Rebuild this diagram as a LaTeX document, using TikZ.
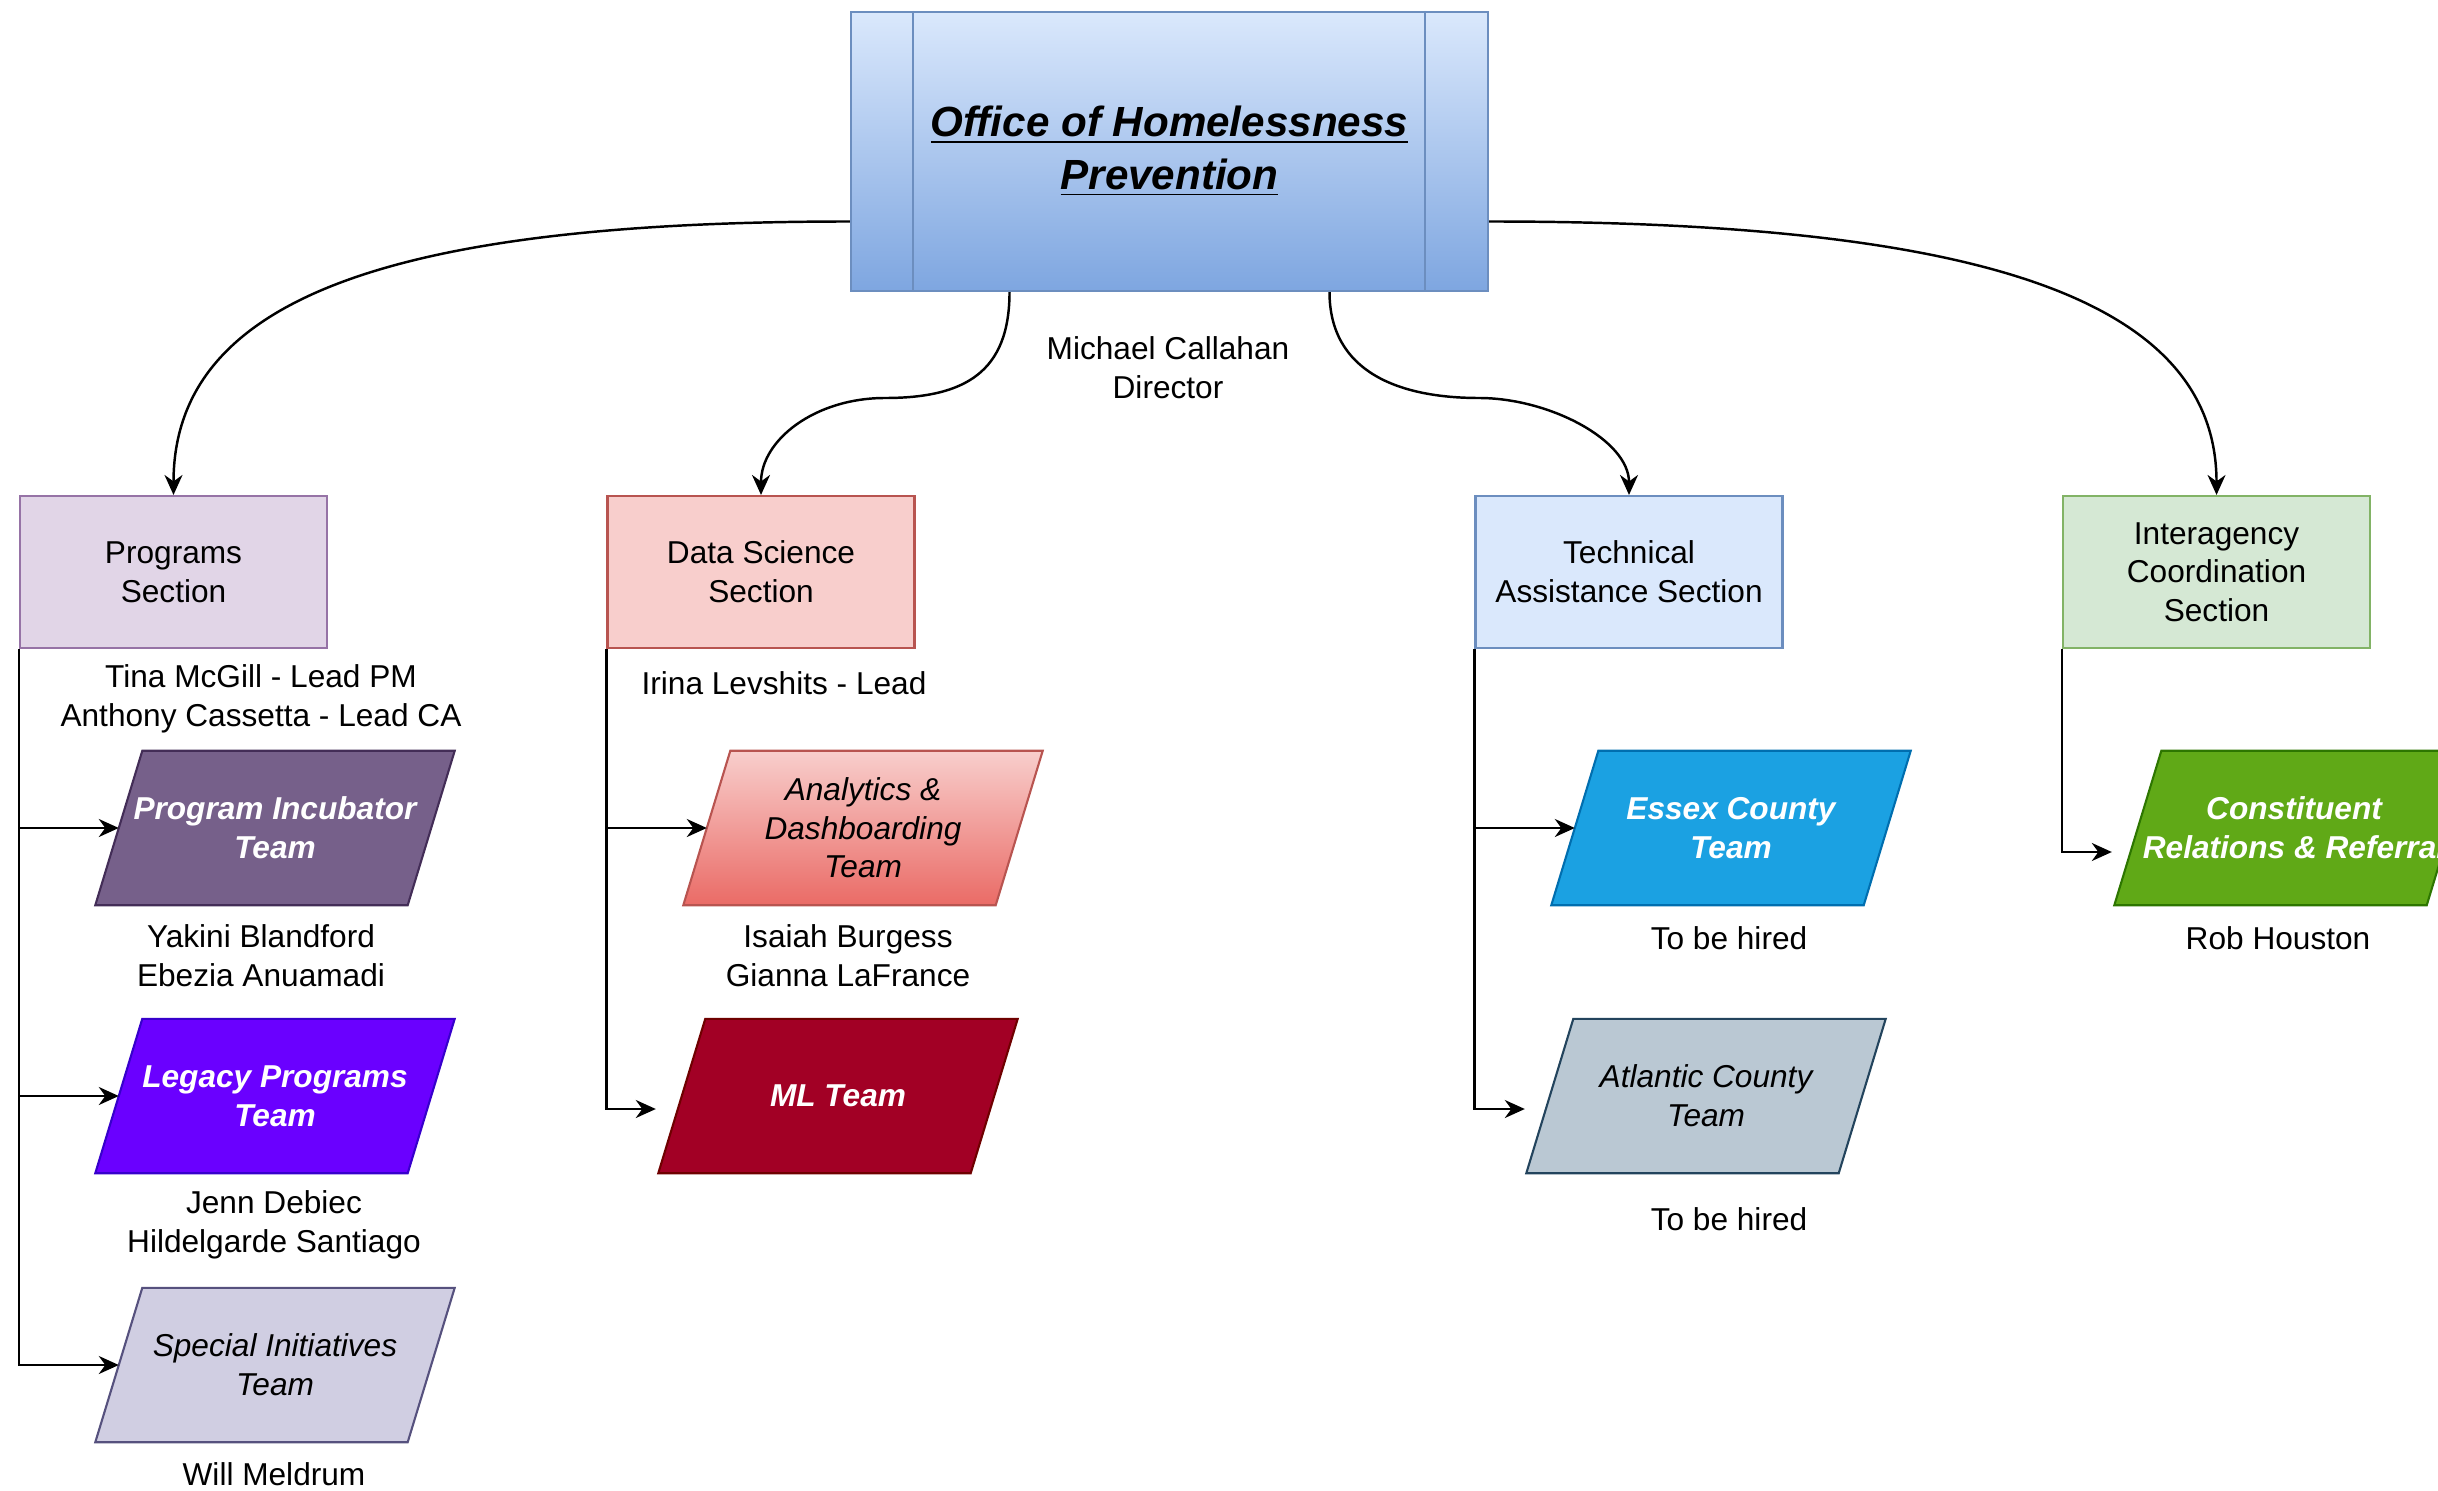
\documentclass[tikz,border=0pt]{standalone}
\usepackage{fontspec}
\setmainfont{Liberation Sans}
\usepackage{tikz}
\usetikzlibrary{arrows.meta, calc, positioning}

\definecolor{officetop}{HTML}{DAE8FC}
\definecolor{officebottom}{HTML}{7EA6E0}
\definecolor{officeline}{HTML}{6C8EBF}
\definecolor{progfill}{HTML}{E1D5E7}
\definecolor{progline}{HTML}{9673A6}
\definecolor{dsfill}{HTML}{F8CECC}
\definecolor{dsline}{HTML}{B85450}
\definecolor{dsbottom}{HTML}{EA6B66}
\definecolor{techfill}{HTML}{DAE8FC}
\definecolor{techline}{HTML}{6C8EBF}
\definecolor{interfill}{HTML}{D5E8D4}
\definecolor{interline}{HTML}{82B366}
\definecolor{incubfill}{HTML}{76608A}
\definecolor{incubline}{HTML}{432D57}
\definecolor{legacyfill}{HTML}{6A00FF}
\definecolor{legacyline}{HTML}{3700CC}
\definecolor{specialfill}{HTML}{D0CEE2}
\definecolor{specialline}{HTML}{56517E}
\definecolor{mlfill}{HTML}{A20025}
\definecolor{mlline}{HTML}{6F0000}
\definecolor{essexfill}{HTML}{1BA1E2}
\definecolor{essexline}{HTML}{006EAF}
\definecolor{atlanticfill}{HTML}{BAC8D3}
\definecolor{atlanticline}{HTML}{23445D}
\definecolor{constfill}{HTML}{60A917}
\definecolor{constline}{HTML}{2D7600}

\pgfdeclarelayer{background}
\pgfsetlayers{background,main}

\tikzset{
    office/.style={draw=officeline, line width=0.6pt, top color=officetop, bottom color=officebottom, minimum width=63.7mm, minimum height=27.9mm, font=\fontsize{12}{15}\selectfont\bfseries\itshape},
    section/.style={draw, line width=0.6pt, minimum width=30.7mm, minimum height=15.2mm, inner sep=1mm},
    team/.style={minimum width=31.1mm, minimum height=15.3mm, inner sep=0pt, font=\fontsize{9}{11}\selectfont\itshape},
    whiteteam/.style={team, text=white, font=\fontsize{9}{11}\selectfont\bfseries\itshape},
    teamshape/.style={line width=0.6pt},
    arr/.style={-{Stealth[length=2mm, width=1.8mm]}, line width=0.7pt},
}

\begin{document}
\fontsize{9}{11}\selectfont
\begin{tikzpicture}[x=0.1mm, y=0.1mm, every node/.append style={align=center}]
    \useasboundingbox (0,0) rectangle (2438,1490);
    \pgfmathsetmacro{\rowone}{662}
    \pgfmathsetmacro{\rowtwo}{394}
    \pgfmathsetmacro{\rowthree}{125}
    \pgfmathsetmacro{\slant}{2.35}

    % director
    \node[office] (office) at (1169.5,1338.5) {\underline{Office of Homelessness}\\\underline{Prevention}};
    \draw[officeline, line width=0.6pt] ([xshift=6.3mm]office.north west) -- ([xshift=6.3mm]office.south west);
    \draw[officeline, line width=0.6pt] ([xshift=-6.4mm]office.north east) -- ([xshift=-6.4mm]office.south east);
    \node (director) at (1168,1122) {Michael Callahan\\Director};

    % sections
    \node[section, fill=progfill, draw=progline] (programs) at (173.5,918) {Programs\\Section};
    \node[section, fill=dsfill, draw=dsline] (datasci) at (761,918) {Data Science\\Section};
    \node[section, fill=techfill, draw=techline] (techassist) at (1629,918) {Technical\\Assistance Section};
    \node[section, fill=interfill, draw=interline] (interagency) at (2216.5,918) {Interagency\\Coordination\\Section};

    \draw[arr] ([yshift=-7mm]office.west) .. controls +(-450,0) and +(0,200) .. (programs.north);
    \draw[arr] ([yshift=-7mm]office.east) .. controls +(480,0) and +(0,200) .. (interagency.north);
    \draw[arr] ([xshift=-16mm]office.south) .. controls +(0,-80) and +(80,0) .. (885,1092) .. controls +(-70,0) and +(0,55) .. (datasci.north);
    \draw[arr] ([xshift=16mm]office.south) .. controls +(0,-80) and +(-80,0) .. (1479,1092) .. controls +(70,0) and +(0,55) .. (techassist.north);

    % programs teams
    \node[whiteteam] (incubator) at (275,\rowone) {Program Incubator\\Team};
    \node[whiteteam] (legacy) at (275,\rowtwo) {Legacy Programs\\Team};
    \node[team] (special) at (275,\rowthree) {Special Initiatives\\Team};
    \draw[arr] (programs.south west) |- (incubator);
    \draw[arr] (programs.south west) |- (legacy);
    \draw[arr] (programs.south west) |- (special);
    \node (proglead) at (261,791) {Tina McGill - Lead PM\\Anthony Cassetta - Lead CA};
    \node (incubnames) at (261,534) {Yakini Blandford\\Ebezia Anuamadi};
    \node (legacynames) at (274,265) {Jenn Debiec\\Hildelgarde Santiago};
    \node (specialnames) at (274,16) {Will Meldrum};

    % data science teams
    \node[team] (analytics) at (863,\rowone) {Analytics \&\\Dashboarding\\Team};
    \node[whiteteam] (mlteam) at (838,\rowtwo) {ML Team};
    \draw[arr] (datasci.south west) |- (analytics);
    \draw[arr] (datasci.south west) |- ([xshift=-2.6mm, yshift=-1.3mm]mlteam.west);
    \node (dslead) at (784,807) {Irina Levshits - Lead};
    \node (analyticsnames) at (848,534) {Isaiah Burgess\\Gianna LaFrance};

    % technical assistance teams
    \node[whiteteam] (essex) at (1731,\rowone) {Essex County\\Team};
    \node[team] (atlantic) at (1706,\rowtwo) {Atlantic County\\Team};
    \draw[arr] (techassist.south west) |- (essex);
    \draw[arr] (techassist.south west) |- ([xshift=-2.5mm, yshift=-1.3mm]atlantic.west);
    \node (essexnames) at (1729,552) {To be hired};
    \node (atlanticnames) at (1729,271) {To be hired};

    % interagency team
    \node[whiteteam] (constituent) at (2294,\rowone) {Constituent\\Relations \& Referral};
    \draw[arr] (interagency.south west) |- ([xshift=-2.6mm, yshift=-2.4mm]constituent.west);
    \node (constnames) at (2278,552) {Rob Houston};

    % parallelograms behind the team names
    \begin{pgfonlayer}{background}
        \foreach \n/\f/\l in {incubator/incubfill/incubline, legacy/legacyfill/legacyline, special/specialfill/specialline, mlteam/mlfill/mlline, essex/essexfill/essexline, atlantic/atlanticfill/atlanticline, constituent/constfill/constline}
            \filldraw[teamshape, fill=\f, draw=\l] ([xshift=-\slant mm]\n.south west) -- ([xshift=-\slant mm]\n.south east) -- ([xshift=\slant mm]\n.north east) -- ([xshift=\slant mm]\n.north west) -- cycle;
        \shadedraw[teamshape, top color=dsfill, bottom color=dsbottom, draw=dsline] ([xshift=-\slant mm]analytics.south west) -- ([xshift=-\slant mm]analytics.south east) -- ([xshift=\slant mm]analytics.north east) -- ([xshift=\slant mm]analytics.north west) -- cycle;
    \end{pgfonlayer}
\end{tikzpicture}
\end{document}
